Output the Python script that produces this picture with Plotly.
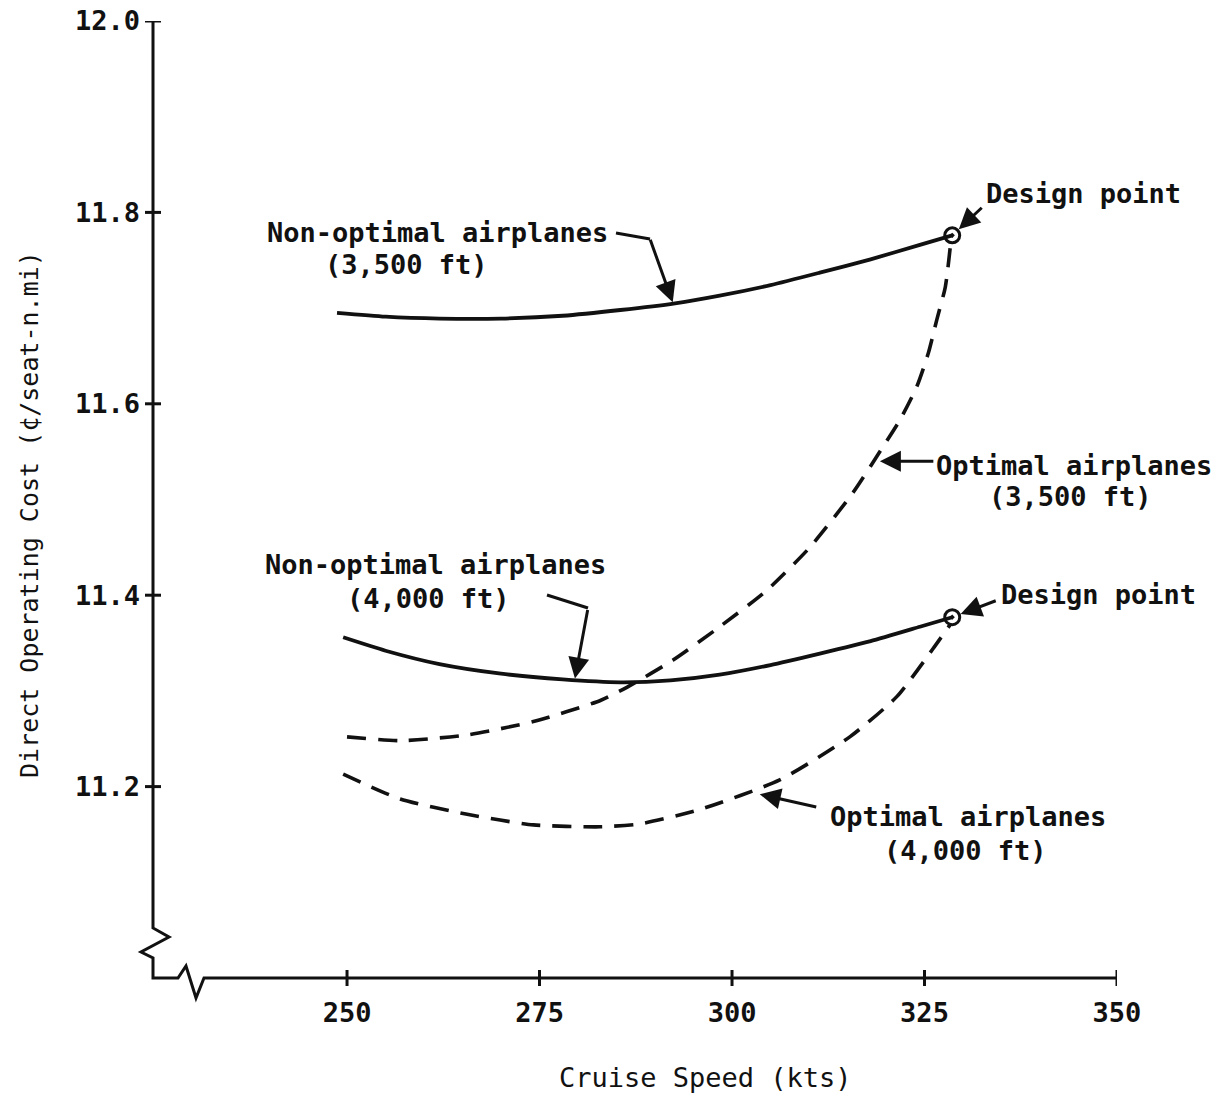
import plotly.graph_objects as go

# ---------------- data ----------------
speed_nonopt_3500 = [248.7, 255, 262, 270, 278, 285.5, 292.6, 298.4, 305, 311.4, 318, 324.4, 328.6]
doc_nonopt_3500 = [11.695, 11.691, 11.689, 11.689, 11.692, 11.698, 11.705, 11.713, 11.724, 11.737, 11.751, 11.766, 11.776]

speed_nonopt_4000 = [249.5, 255, 262, 270, 278, 285.5, 292, 298.4, 305, 311.4, 318, 324.4, 328.6]
doc_nonopt_4000 = [11.356, 11.342, 11.328, 11.318, 11.312, 11.309, 11.311, 11.317, 11.327, 11.339, 11.352, 11.367, 11.377]

speed_opt_3500 = [250, 256.9, 265.6, 274.2, 282.9, 286.4, 292.3, 298.4, 304.5, 310.1, 315.7, 319.6, 321.8, 324.0, 325.5, 326.6, 327.7, 328.4]
doc_opt_3500 = [11.252, 11.248, 11.254, 11.268, 11.290, 11.304, 11.332, 11.367, 11.405, 11.450, 11.507, 11.555, 11.583, 11.618, 11.653, 11.688, 11.722, 11.768]

speed_opt_4000 = [249.5, 256.9, 265.6, 274.2, 282.9, 288, 295.8, 306.2, 315.3, 321.4, 326.1, 328.4]
doc_opt_4000 = [11.213, 11.187, 11.171, 11.160, 11.158, 11.161, 11.176, 11.207, 11.252, 11.294, 11.344, 11.370]

design_speed = [328.6, 328.6]
design_doc = [11.776, 11.377]

x_ticks = [250, 275, 300, 325, 350]
x_ticktext = ["250", "275", "300", "325", "350"]
y_ticks = [11.2, 11.4, 11.6, 11.8, 12.0]
y_ticktext = ["11.2", "11.4", "11.6", "11.8", "12.0"]

x_title = "Cruise Speed (kts)"
y_title = "Direct Operating Cost (¢/seat-n.mi)"

# ---------------- layout geometry ----------------
W, H = 1221, 1102
L, R, T, B = 153, 1117, 21, 978
X_RANGE = [224.8, 350]
Y_RANGE = [11.0, 12.0]


def PX(x):
    return (x - L) / (R - L)


def PY(y):
    return (B - y) / (B - T)


FONT = "DejaVu Sans Mono"
INK = "#111111"

fig = go.Figure()

solid = dict(color=INK, width=3.8)
dashed = dict(color=INK, width=3.6, dash="19px,12px")

fig.add_trace(go.Scatter(x=speed_nonopt_3500, y=doc_nonopt_3500, mode="lines",
                         line=dict(shape="spline", smoothing=0.6, **solid),
                         name="Non-optimal airplanes (3,500 ft)", showlegend=False))
fig.add_trace(go.Scatter(x=speed_nonopt_4000, y=doc_nonopt_4000, mode="lines",
                         line=dict(shape="spline", smoothing=0.6, **solid),
                         name="Non-optimal airplanes (4,000 ft)", showlegend=False))
fig.add_trace(go.Scatter(x=speed_opt_3500, y=doc_opt_3500, mode="lines",
                         line=dict(shape="spline", smoothing=0.6, **dashed),
                         name="Optimal airplanes (3,500 ft)", showlegend=False))
fig.add_trace(go.Scatter(x=speed_opt_4000, y=doc_opt_4000, mode="lines",
                         line=dict(shape="spline", smoothing=0.6, **dashed),
                         name="Optimal airplanes (4,000 ft)", showlegend=False))
fig.add_trace(go.Scatter(x=design_speed, y=design_doc, mode="markers",
                         marker=dict(symbol="circle-open-dot", size=15, color=INK,
                                     line=dict(color=INK, width=3)),
                         name="Design point", showlegend=False))

shapes = []
# axis lines with break symbols
axis_pts = [(L, T), (L, 928), (169, 937), (141, 952), (L, 958), (L, B),
            (178, B), (186, 966), (196, 998), (204, B), (R, B)]
path = "M " + " L ".join(f"{PX(x):.5f},{PY(y):.5f}" for x, y in axis_pts)
shapes.append(dict(type="path", path=path, xref="paper", yref="paper",
                   line=dict(color=INK, width=3)))
# cross ticks on y axis
for v in y_ticks:
    shapes.append(dict(type="line", xref="paper", xsizemode="pixel", xanchor=0,
                       x0=-8, x1=8, yref="y", y0=v, y1=v,
                       line=dict(color=INK, width=3)))
# cross ticks on x axis
for v in x_ticks:
    shapes.append(dict(type="line", yref="paper", ysizemode="pixel", yanchor=0,
                       y0=-8, y1=8, xref="x", x0=v, x1=v,
                       line=dict(color=INK, width=3)))
# leading segments of the bent leader arrows
for (x0, y0), (x1, y1) in [((616, 233), (650, 239)), ((547, 595), (588, 608))]:
    shapes.append(dict(type="line", xref="paper", yref="paper",
                       x0=PX(x0), y0=PY(y0), x1=PX(x1), y1=PY(y1),
                       line=dict(color=INK, width=3)))

annotations = []
# text labels (centre positions in pixels)
labels = [
    ("Non-optimal airplanes", 437, 233),
    ("(3,500 ft)", 406, 264),
    ("Design point", 1083, 194),
    ("Optimal airplanes", 1074, 466),
    ("(3,500 ft)", 1070, 496),
    ("Non-optimal airplanes", 435, 564),
    ("(4,000 ft)", 428, 598),
    ("Design point", 1098, 594),
    ("Optimal airplanes", 968, 816),
    ("(4,000 ft)", 965, 850),
]
for txt, cx, cy in labels:
    annotations.append(dict(text=txt, xref="paper", yref="paper", x=PX(cx), y=PY(cy),
                            xanchor="center", yanchor="middle", showarrow=False,
                            font=dict(family=FONT, size=27, color=INK, weight="bold")))

# axis titles
annotations.append(dict(text=x_title, xref="paper", yref="paper", x=PX(705), y=PY(1077),
                        xanchor="center", yanchor="middle", showarrow=False,
                        font=dict(family=FONT, size=27, color=INK)))
annotations.append(dict(text=y_title, xref="paper", yref="paper", x=PX(29), y=PY(515),
                        xanchor="center", yanchor="middle", showarrow=False, textangle=-90,
                        font=dict(family=FONT, size=25, color=INK)))

# arrows: tip in data coordinates, tail as pixel offset
arrows = [
    (292.3, 11.706, -23, -64, 0),
    (design_speed[0], design_doc[0], 31, -29, 9),
    (319.2, 11.540, 55, 0, 0),
    (279.6, 11.313, 13, -70, 0),
    (design_speed[1], design_doc[1], 45, -17, 9),
    (303.6, 11.192, 58, 13, 0),
]
for x, y, ax, ay, so in arrows:
    annotations.append(dict(x=x, y=y, xref="x", yref="y", ax=ax, ay=ay, text="",
                            showarrow=True, arrowhead=2, arrowsize=1.4, arrowwidth=3,
                            arrowcolor=INK, standoff=so))

fig.update_layout(
    width=W, height=H,
    margin=dict(l=L, r=W - R, t=T, b=H - B, pad=0),
    paper_bgcolor="white", plot_bgcolor="white",
    shapes=shapes, annotations=annotations,
    font=dict(family=FONT, color=INK),
    showlegend=False,
)
fig.update_xaxes(range=X_RANGE, tickvals=x_ticks, ticktext=x_ticktext, ticks="",
                 showgrid=False, zeroline=False, showline=False, automargin=False,
                 ticklabelstandoff=16,
                 tickfont=dict(family=FONT, size=27, color=INK, weight="bold"))
fig.update_yaxes(range=Y_RANGE, tickvals=y_ticks, ticktext=y_ticktext, ticks="",
                 showgrid=False, zeroline=False, showline=False, automargin=False,
                 ticklabelstandoff=12,
                 tickfont=dict(family=FONT, size=27, color=INK, weight="bold"))

fig.write_html("out.html")
